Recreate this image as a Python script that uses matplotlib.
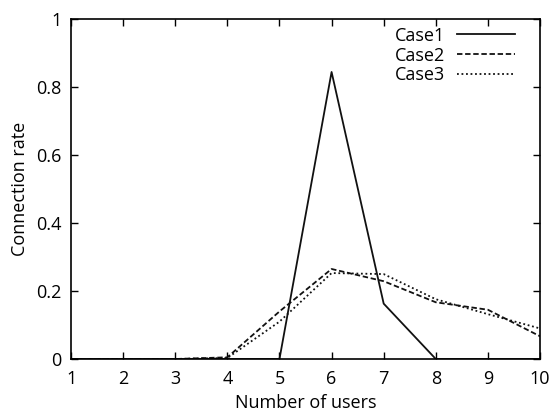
import matplotlib
matplotlib.use('Agg')
import matplotlib.pyplot as plt

## Data
## =========================================== ##
users      = [1, 2, 3, 4, 5, 6, 7, 8, 9, 10]
case1      = [0, 0, 0, 0, 0, 0.845, 0.163, 0, 0, 0]
case2      = [0, 0, 0, 0.005, 0.14, 0.265, 0.229, 0.167, 0.145, 0.067]
case3      = [0, 0, 0, 0.003, 0.11, 0.253, 0.25, 0.176, 0.132, 0.09]
labels     = ['Case1', 'Case2', 'Case3']
xticks     = [1, 2, 3, 4, 5, 6, 7, 8, 9, 10]
yticks     = [0, 0.2, 0.4, 0.6, 0.8, 1]
yticklbl   = ['0', '0.2', '0.4', '0.6', '0.8', '1']

plt.rcParams['font.family'] = ['Open Sans', 'DejaVu Sans']

fig            = plt.figure(figsize=(5.55, 4.11), dpi=100)
ax             = fig.add_axes([0.128, 0.1265, 0.845, 0.8265])

ax.plot(users, case1, color='#111111', linewidth=1.3, linestyle='-', label=labels[0])
ax.plot(users, case2, color='#111111', linewidth=1.3, linestyle=(0, (3, 1.5)), label=labels[1])
ax.plot(users, case3, color='#111111', linewidth=1.3, linestyle=(0, (1, 1.5)), label=labels[2])

ax.set_xlim(1, 10)
ax.set_ylim(0, 1)
ax.set_xticks(xticks)
ax.set_yticks(yticks)
ax.set_yticklabels(yticklbl)
ax.tick_params(direction='in', top=True, right=True, length=5, width=1, labelsize=13)
ax.tick_params(axis='x', pad=8)
ax.tick_params(axis='y', pad=7)
for sp in ax.spines.values():
    sp.set_linewidth(1.2)

ax.set_xlabel('Number of users', fontsize=13, labelpad=4)
ax.set_ylabel('Connection rate', fontsize=13, labelpad=5)

ax.legend(loc='upper right', bbox_to_anchor=(0.97, 1.01), frameon=False, markerfirst=False,
          fontsize=13, handlelength=3.2, handletextpad=0.7, labelspacing=0.1, borderaxespad=0.2)

fig.savefig('out.png', dpi=100)
